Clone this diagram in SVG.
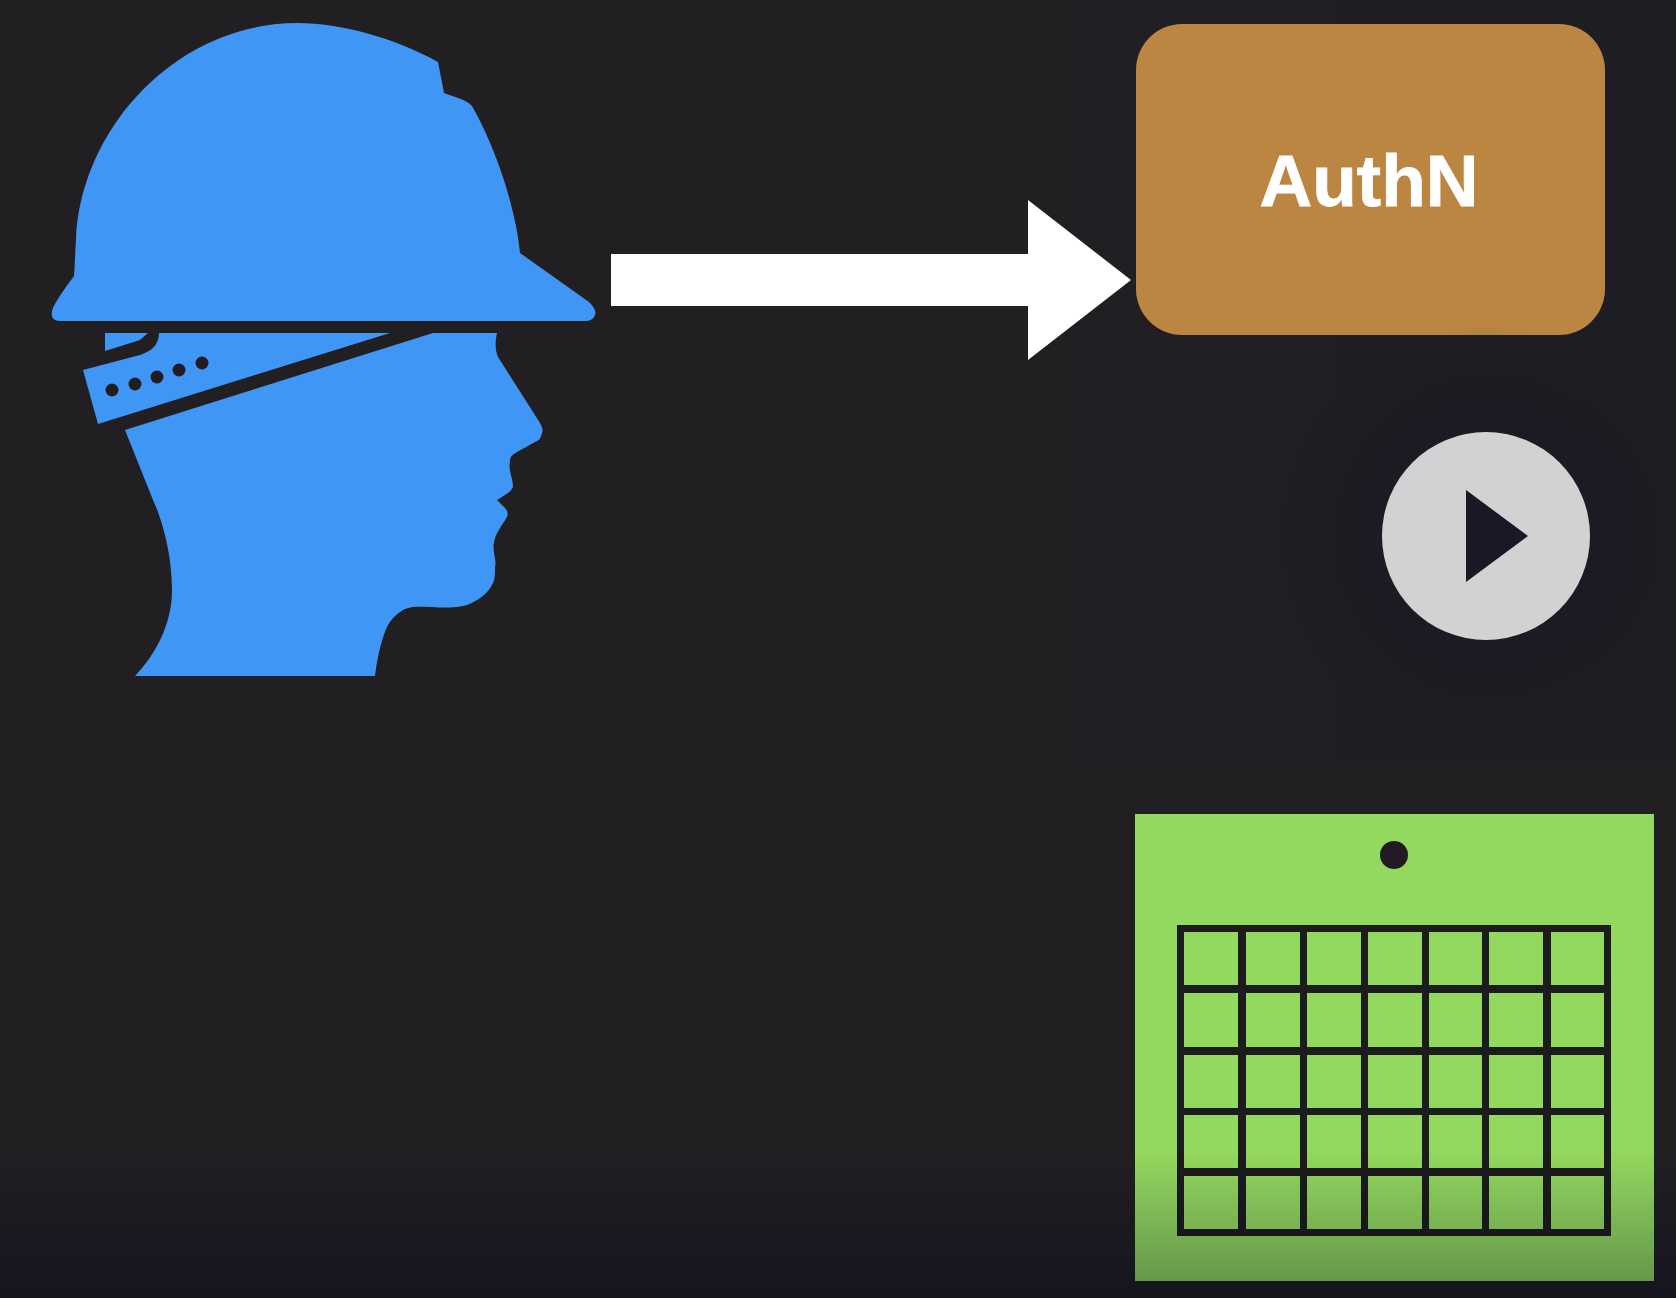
<svg xmlns="http://www.w3.org/2000/svg" width="1676" height="1298" viewBox="0 0 1676 1298">
  <defs>
    <linearGradient id="fade" x1="0" y1="0" x2="0" y2="1">
      <stop offset="0" stop-color="#00001a" stop-opacity="0"/>
      <stop offset="1" stop-color="#00001a" stop-opacity="0.34"/>
    </linearGradient>
    <radialGradient id="halo">
      <stop offset="0.5" stop-color="#1a1822" stop-opacity="0.6"/>
      <stop offset="1" stop-color="#1a1822" stop-opacity="0"/>
    </radialGradient>
    <linearGradient id="tint" x1="0" y1="0" x2="1" y2="0">
      <stop offset="0.6" stop-color="#1a1a24" stop-opacity="0"/>
      <stop offset="1" stop-color="#1a1a24" stop-opacity="0.4"/>
    </linearGradient>
    <filter id="soft" x="-5%" y="-5%" width="110%" height="110%">
      <feGaussianBlur stdDeviation="0.7"/>
    </filter>
  </defs>
  <style>
    .blue{fill:#4096f5}
    .dot{fill:#211f22}
    .cell{fill:#93d95f}
    .soft{filter:url(#soft)}
    text{font-family:"Liberation Sans",Arial,sans-serif;font-weight:700;fill:#fff;stroke:#fff;stroke-width:0.8}
  </style>
  <rect width="1676" height="1298" fill="#211f22"/>
  <rect width="1676" height="760" fill="url(#tint)"/>
  <g id="engineer" class="soft">
    <path class="blue" d="M60,321 C50,321 50,312 55,304 C60,295 68,284 74,276 C75,265 75,252 76,240 C80,130 175,23 298,23 C340,23 395,38 438,62 L444,93 L458,98 C464,100 468,102 472,106 C497,150 516,210 520,253 L589,302 Q597,310 595,315 Q593,321 585,321 Z"/>
    <path class="blue" d="M105,333 L148,333 L140,340 L105,351 Z"/>
    <path class="blue" d="M159,333 L390,333 L98,424 L83,370 L140,355 Q159,349 159,333 Z"/>
    <path class="blue" d="M433,333 L497,333 C495,342 495,350 498,357 L540,423 Q544,430 542,433 Q541,440 535,442 C528,446 522,449 517,452 Q509,456 510,462 C508,470 513,478 513,487 Q511,491 508,493 L497,500 L505,508 Q509,512 507,517 C503,524 496,532 494,542 C492,552 497,560 495,567 C495,575 495,580 492,585 C488,593 478,601 467,605 C450,610 430,606 413,607 C403,608 394,615 388,625 C383,635 378,652 375,676 L135,676 C155,655 172,625 172,590 C172,550 160,515 153,500 L125,430 Z"/>
    <circle class="dot" cx="112" cy="390" r="6.5"/>
    <circle class="dot" cx="135" cy="384" r="6.5"/>
    <circle class="dot" cx="157" cy="377" r="6.5"/>
    <circle class="dot" cx="179" cy="370" r="6.5"/>
    <circle class="dot" cx="202" cy="363" r="6.5"/>
  </g>
  <g id="connectors">
    <polygon class="soft" fill="#ffffff" points="611,254 1028,254 1028,200 1131,280 1028,360 1028,306 611,306"/>
  </g>
  <g id="authn" class="soft">
    <rect x="1136" y="24" width="469" height="311" rx="46" ry="46" fill="#ba8642"/>
    <text x="1369" y="206" font-size="73" text-anchor="middle">AuthN</text>
  </g>
  <g id="play">
    <circle cx="1486" cy="536" r="210" fill="url(#halo)"/>
    <circle cx="1486" cy="536" r="104" fill="#d2d2d2"/>
    <polygon fill="#1a1825" points="1466,490 1528,536 1466,582"/>
  </g>
  <g id="calendar" class="soft">
    <rect x="1135" y="814" width="519" height="467" fill="#93d95f"/>
    <circle cx="1394" cy="855" r="14" fill="#211f22"/>
    <rect x="1177" y="925" width="434" height="311" fill="#1e1c1e"/>
    <g class="cell">
      <rect x="1184" y="932" width="54" height="53"/><rect x="1246" y="932" width="54" height="53"/><rect x="1307" y="932" width="54" height="53"/><rect x="1368" y="932" width="54" height="53"/><rect x="1429" y="932" width="53" height="53"/><rect x="1489" y="932" width="54" height="53"/><rect x="1551" y="932" width="53" height="53"/>
      <rect x="1184" y="993" width="54" height="54"/><rect x="1246" y="993" width="54" height="54"/><rect x="1307" y="993" width="54" height="54"/><rect x="1368" y="993" width="54" height="54"/><rect x="1429" y="993" width="53" height="54"/><rect x="1489" y="993" width="54" height="54"/><rect x="1551" y="993" width="53" height="54"/>
      <rect x="1184" y="1055" width="54" height="53"/><rect x="1246" y="1055" width="54" height="53"/><rect x="1307" y="1055" width="54" height="53"/><rect x="1368" y="1055" width="54" height="53"/><rect x="1429" y="1055" width="53" height="53"/><rect x="1489" y="1055" width="54" height="53"/><rect x="1551" y="1055" width="53" height="53"/>
      <rect x="1184" y="1115" width="54" height="53"/><rect x="1246" y="1115" width="54" height="53"/><rect x="1307" y="1115" width="54" height="53"/><rect x="1368" y="1115" width="54" height="53"/><rect x="1429" y="1115" width="53" height="53"/><rect x="1489" y="1115" width="54" height="53"/><rect x="1551" y="1115" width="53" height="53"/>
      <rect x="1184" y="1176" width="54" height="53"/><rect x="1246" y="1176" width="54" height="53"/><rect x="1307" y="1176" width="54" height="53"/><rect x="1368" y="1176" width="54" height="53"/><rect x="1429" y="1176" width="53" height="53"/><rect x="1489" y="1176" width="54" height="53"/><rect x="1551" y="1176" width="53" height="53"/>
    </g>
  </g>
  <rect y="1150" width="1676" height="148" fill="url(#fade)"/>
</svg>
